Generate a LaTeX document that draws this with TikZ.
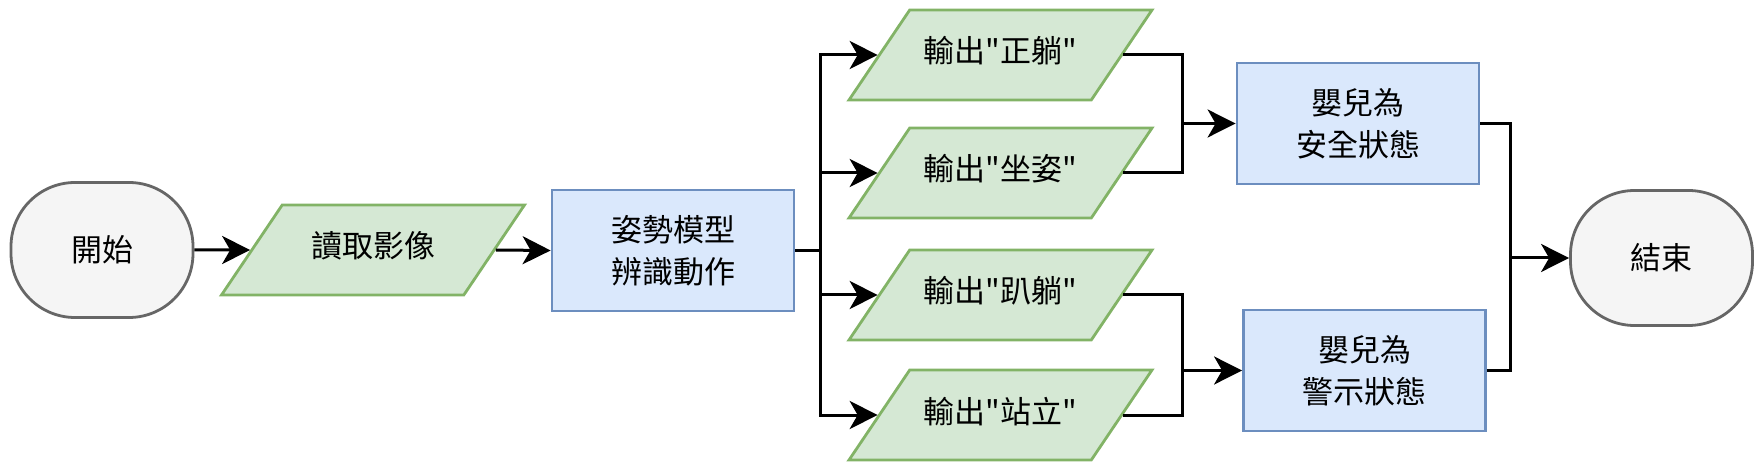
\documentclass[tikz,border=0pt]{standalone}
\usepackage{fontspec}
\newfontfamily\cjkfont{Noto Sans CJK TC}
\usetikzlibrary{arrows.meta,shapes.geometric}
\definecolor{termFill}{HTML}{F5F5F5}
\definecolor{termLine}{HTML}{666666}
\definecolor{ioFill}{HTML}{D5E8D4}
\definecolor{ioLine}{HTML}{82B366}
\definecolor{procFill}{HTML}{DAE8FC}
\definecolor{procLine}{HTML}{6C8EBF}

\tikzset{
  terminal/.style={
    rectangle,
    draw=termLine,
    fill=termFill,
    line width=2.8pt,
    rounded corners=64pt,
    minimum width=182pt,
    minimum height=135pt,
    inner sep=0pt
  },
  iobox/.style={
    trapezium,
    trapezium left angle=56,
    trapezium right angle=124,
    trapezium stretches body,
    draw=ioLine,
    fill=ioFill,
    line width=2.8pt,
    text height=24pt,
    text depth=8pt,
    inner xsep=0pt,
    inner ysep=29pt,
    minimum width=303pt,
    minimum height=90pt
  },
  procbox/.style={
    rectangle,
    draw=procLine,
    fill=procFill,
    line width=2.8pt,
    minimum width=242pt,
    minimum height=121pt,
    inner sep=0pt,
    align=center
  },
  flow/.style={
    line width=3pt,
    black
  }
}

\begin{document}
\begin{tikzpicture}[
    >={Stealth[length=28pt,width=28pt,inset=8pt]},
    x=1pt, y=1pt,
    font=\cjkfont\fontsize{31}{42}\selectfont
]

\useasboundingbox (0,0) rectangle (1760,474);

% Inici i lectura
\node[terminal] (start) at (102,224) {開始};
\node[iobox] (read) at (373,224) {讀取影像};

% Model de postura
\node[procbox] (model) at (673,223.5) {姿勢模型\\辨識動作};

% Sortides
\node[iobox] (outA) at (1000.5,419) {輸出"正躺"};
\node[iobox] (outB) at (1000.5,301) {輸出"坐姿"};
\node[iobox] (outC) at (1000.5,179) {輸出"趴躺"};
\node[iobox] (outD) at (1000.5,59) {輸出"站立"};

% Estats del nadó
\node[procbox] (safe) at (1358,350.5) {嬰兒為\\安全狀態};
\node[procbox] (warn) at (1364.5,103.5) {嬰兒為\\警示狀態};

% Final
\node[terminal] (end) at (1661.5,216) {結束};

% Punts d'unió
\coordinate (split) at (820,0 |- model.east);
\coordinate (mergeA) at (1182,0 |- safe.west);
\coordinate (mergeB) at (1182,0 |- warn.west);
\coordinate (mergeE) at (1510,0 |- end.west);

% Fletxes principals
\draw[flow, ->] (start.east) -- (read.west);
\draw[flow, ->] (read.east) -- (model.west);

% Branques
\draw[flow] (model.east) -- (split);
\draw[flow, ->] (split) |- (outA.west);
\draw[flow, ->] (split) |- (outB.west);
\draw[flow, ->] (split) |- (outC.west);
\draw[flow, ->] (split) |- (outD.west);

% Unions cap als estats
\draw[flow] (outA.east) -| (mergeA);
\draw[flow] (outB.east) -| (mergeA);
\draw[flow, ->] (mergeA) -- (safe.west);
\draw[flow] (outC.east) -| (mergeB);
\draw[flow] (outD.east) -| (mergeB);
\draw[flow, ->] (mergeB) -- (warn.west);

% Cap al final
\draw[flow] (safe.east) -| (mergeE);
\draw[flow] (warn.east) -| (mergeE);
\draw[flow, ->] (mergeE) -- (end.west);

\end{tikzpicture}
\end{document}
